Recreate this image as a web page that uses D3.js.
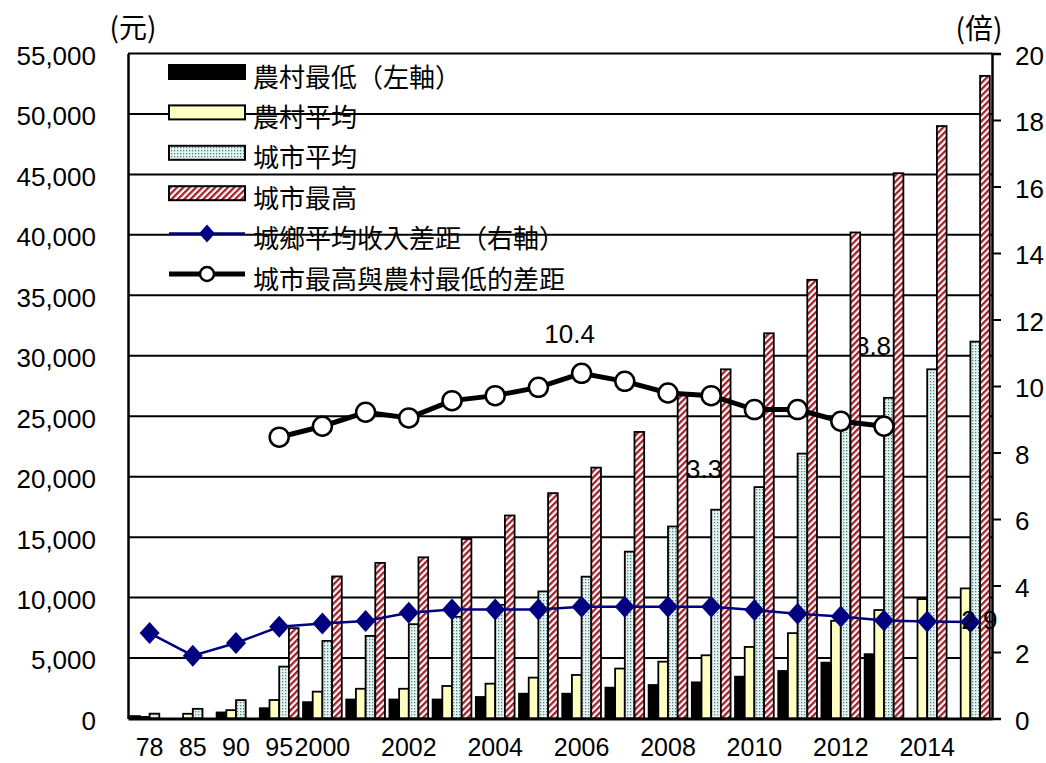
<!DOCTYPE html>
<html><head><meta charset="utf-8">
<script src="https://cdn.jsdelivr.net/npm/d3@7"></script>
<style>
html,body{margin:0;padding:0;background:#fff;}
svg{display:block;}
</style></head>
<body>
<svg id="chart" width="1046" height="763"></svg>
<script>
// ---------------- DATA ----------------
const categories = ["78","85","90","95","2000","2001","2002","2003","2004","2005","2006","2007","2008","2009","2010","2011","2012","2013","2014","2015"];
const xTickLabels = ["78","85","90","95","2000","","2002","","2004","","2006","","2008","","2010","","2012","","2014",""];
const leftTicks = [0,5000,10000,15000,20000,25000,30000,35000,40000,45000,50000,55000];
const rightTicks = [0,2,4,6,8,10,12,14,16,18,20];

const seriesNames = ["農村最低（左軸）","農村平均","城市平均","城市最高","城鄉平均收入差距（右軸）","城市最高與農村最低的差距"];

// 農村最低 (left axis, 元)
const ruralLowest  = [200, null, 500, 850, 1350, 1570, 1570, 1570, 1780, 2050, 2050, 2550, 2770, 2990, 3460, 3930, 4620, 5320, null, null];
// 農村平均
const ruralAverage = [130, 390, 690, 1530, 2220, 2460, 2460, 2690, 2880, 3380, 3600, 4130, 4700, 5230, 5920, 7060, 8080, 8970, 9880, 10760];
// 城市平均
const urbanAverage = [400, 800, 1520, 4290, 6420, 6830, 7800, 8410, 9400, 10510, 11730, 13800, 15880, 17270, 19140, 21910, 24600, 26520, 28880, 31170];
// 城市最高
const urbanHighest = [null, null, null, 7470, 11750, 12870, 13330, 14850, 16790, 18640, 20750, 23700, 26750, 28880, 31860, 36280, 40200, 45100, 49000, 53150];
// 城鄉平均收入差距 (right axis, 倍)
const avgGapRatio  = [2.57, 1.89, 2.27, 2.76, 2.86, 2.93, 3.18, 3.28, 3.28, 3.28, 3.36, 3.36, 3.36, 3.36, 3.26, 3.15, 3.07, 2.95, 2.92, 2.90];
// 城市最高與農村最低的差距 (right axis, 倍)
const highLowRatio = [null, null, null, 8.46, 8.79, 9.21, 9.04, 9.56, 9.71, 9.96, 10.38, 10.14, 9.79, 9.71, 9.29, 9.29, 8.94, 8.79, null, null];

// data labels: which series / category, and the text shown
const labelSeries = ["highLow","highLow","avgGap","avgGap"];
const labelCats   = ["2006","2013","2009","2015"];
const labelTexts  = ["10.4","8.8","3.3","2.9"];

// ---------------- LAYOUT ----------------
const W = 1046, H = 763;
const plotLeft = 128, plotRight = 992, plotTop = 53.5, plotBottom = 718.5;
const numFont = "'Liberation Sans', Arial, sans-serif";
const cjkFont = "'Noto Sans CJK TC','Noto Sans CJK JP',sans-serif";

const svg = d3.select("#chart");
svg.append("rect").attr("width",W).attr("height",H).attr("fill","#fff");

const defs = svg.append("defs");
// dotted pattern (城市平均)
const dot = defs.append("pattern").attr("id","dots").attr("patternUnits","userSpaceOnUse")
  .attr("width",3).attr("height",3);
dot.append("rect").attr("width",3).attr("height",3).attr("fill","#e8f3f1");
dot.append("rect").attr("x",0).attr("y",0).attr("width",1.3).attr("height",1.3).attr("fill","#4a8884");
// red hatch (城市最高)
const hatch = defs.append("pattern").attr("id","hatch").attr("patternUnits","userSpaceOnUse")
  .attr("width",4.5).attr("height",4.5).attr("patternTransform","rotate(45)");
hatch.append("rect").attr("width",4.5).attr("height",4.5).attr("fill","#fff");
hatch.append("rect").attr("width",2.3).attr("height",4.5).attr("fill","#a3202a");

const x = d3.scaleBand().domain(categories).range([plotLeft, plotRight]).paddingInner(0).paddingOuter(0);
const xi = d3.scaleBand().domain([0,1,2,3]).range([0, x.bandwidth()]).paddingInner(0).paddingOuter(0.23);
const yL = d3.scaleLinear().domain([0,55000]).range([plotBottom, plotTop]);
const yR = d3.scaleLinear().domain([0,20]).range([plotBottom, plotTop]);

// gridlines
svg.append("g").selectAll("line").data(leftTicks.filter(d=>d>0)).join("line")
  .attr("x1",plotLeft).attr("x2",plotRight)
  .attr("y1",d=>yL(d)).attr("y2",d=>yL(d))
  .attr("stroke","#000").attr("stroke-width",2);

// data labels drawn beneath the bars (as in the reference)
const lineX = c => x(c) + x.bandwidth()/2;
const labelOffsets = [[-12,-39],[-11,-80],[-7,-138],[9,-2]];
function labelPos(i){
  const c = labelCats[i];
  const idx = categories.indexOf(c);
  const v = labelSeries[i]==="highLow" ? highLowRatio[idx] : avgGapRatio[idx];
  return [lineX(c)+labelOffsets[i][0], yR(v)+labelOffsets[i][1]];
}
svg.append("g").selectAll("text").data([0,1,2]).join("text")
  .attr("x",i=>labelPos(i)[0]).attr("y",i=>labelPos(i)[1])
  .attr("text-anchor","middle").attr("dominant-baseline","central")
  .attr("font-family",numFont).attr("font-size",26).attr("fill","#000")
  .text(i=>labelTexts[i]);

// bars
const barSeries = [
  {vals: ruralLowest,  fill:"#000"},
  {vals: ruralAverage, fill:"#ffffc4"},
  {vals: urbanAverage, fill:"url(#dots)"},
  {vals: urbanHighest, fill:"url(#hatch)"}
];
barSeries.forEach((s,si)=>{
  const pts = categories.map((c,i)=>({c, v:s.vals[i]})).filter(d=>d.v!=null);
  svg.append("g").selectAll("rect").data(pts).join("rect")
    .attr("x",d=>x(d.c)+xi(si))
    .attr("width",xi.bandwidth())
    .attr("y",d=>yL(d.v))
    .attr("height",d=>plotBottom-yL(d.v))
    .attr("fill",s.fill).attr("stroke","#000").attr("stroke-width",1.8);
});

// axes
const gL = svg.append("g").attr("transform",`translate(${plotLeft},0)`)
  .call(d3.axisLeft(yL).tickValues(leftTicks).tickSize(0).tickPadding(32).tickFormat(d3.format(",")));
gL.select(".domain").attr("stroke","#000").attr("stroke-width",2.5);
gL.selectAll("text").attr("font-family",numFont).attr("font-size",26).attr("fill","#000").attr("dy","0.42em");

const gR = svg.append("g").attr("transform",`translate(${plotRight},0)`)
  .call(d3.axisRight(yR).tickValues(rightTicks).tickSize(9).tickPadding(14).tickFormat(d3.format("d")));
gR.select(".domain").attr("stroke","#000").attr("stroke-width",2.5);
gR.selectAll(".tick line").attr("stroke","#000").attr("stroke-width",2);
gR.selectAll("text").attr("font-family",numFont).attr("font-size",26).attr("fill","#000").attr("dy","0.42em");

const gB = svg.append("g").attr("transform",`translate(0,${plotBottom})`)
  .call(d3.axisBottom(x).tickSize(0).tickPadding(20).tickFormat((d,i)=>xTickLabels[i]));
gB.select(".domain").attr("stroke","#000").attr("stroke-width",3);
gB.selectAll("text").attr("font-family",numFont).attr("font-size",25).attr("fill","#000");

// lines
const gapPts = categories.map((c,i)=>({c,v:avgGapRatio[i]}));
svg.append("path").datum(gapPts)
  .attr("d",d3.line().x(d=>lineX(d.c)).y(d=>yR(d.v)))
  .attr("fill","none").attr("stroke","#000080").attr("stroke-width",2.5);
const diamond = (cx,cy,w,h)=>`M${cx},${cy-h}L${cx+w},${cy}L${cx},${cy+h}L${cx-w},${cy}Z`;
svg.append("g").selectAll("path").data(gapPts).join("path")
  .attr("d",d=>diamond(lineX(d.c),yR(d.v),10,11))
  .attr("fill","#000080");

const hlPts = categories.map((c,i)=>({c,v:highLowRatio[i]})).filter(d=>d.v!=null);
svg.append("path").datum(hlPts)
  .attr("d",d3.line().x(d=>lineX(d.c)).y(d=>yR(d.v)))
  .attr("fill","none").attr("stroke","#000").attr("stroke-width",5);
svg.append("g").selectAll("circle").data(hlPts).join("circle")
  .attr("cx",d=>lineX(d.c)).attr("cy",d=>yR(d.v)).attr("r",9.5)
  .attr("fill","#fff").attr("stroke","#000").attr("stroke-width",2.5);

// label on top
svg.append("g").selectAll("text").data([3]).join("text")
  .attr("x",i=>labelPos(i)[0]).attr("y",i=>labelPos(i)[1])
  .attr("text-anchor","middle").attr("dominant-baseline","central")
  .attr("font-family",numFont).attr("font-size",26).attr("fill","#000")
  .text(i=>labelTexts[i]);

// axis unit titles
svg.append("text").attr("x",133).attr("y",26).attr("text-anchor","middle").attr("dominant-baseline","central")
  .attr("font-family",cjkFont).attr("font-size",28).text("(元)");
svg.append("text").attr("x",979).attr("y",27).attr("text-anchor","middle").attr("dominant-baseline","central")
  .attr("font-family",cjkFont).attr("font-size",28).text("(倍)");

// legend
const lgX = 169, lgW = 76, lgY0 = 72, lgStep = 40.4;
const lg = svg.append("g");
const swatchFills = ["#000","#ffffc4","url(#dots)","url(#hatch)"];
seriesNames.forEach((name,i)=>{
  const cy = lgY0 + i*lgStep;
  if(i<4){
    lg.append("rect").attr("x",lgX).attr("y",cy-7).attr("width",lgW).attr("height",14)
      .attr("fill",swatchFills[i]).attr("stroke","#000").attr("stroke-width",2);
  } else if(i===4){
    lg.append("line").attr("x1",lgX).attr("x2",lgX+lgW).attr("y1",cy).attr("y2",cy)
      .attr("stroke","#000080").attr("stroke-width",2.5);
    lg.append("path").attr("d",diamond(lgX+lgW/2,cy,8,9)).attr("fill","#000080");
  } else {
    lg.append("line").attr("x1",lgX).attr("x2",lgX+lgW).attr("y1",cy).attr("y2",cy)
      .attr("stroke","#000").attr("stroke-width",5);
    lg.append("circle").attr("cx",lgX+lgW/2).attr("cy",cy).attr("r",7)
      .attr("fill","#fff").attr("stroke","#000").attr("stroke-width",2.5);
  }
  lg.append("text").attr("x",253).attr("y",cy+3).attr("dominant-baseline","central")
    .attr("font-family",cjkFont).attr("font-size",26).attr("fill","#000").text(name);
});
</script>
</body></html>
